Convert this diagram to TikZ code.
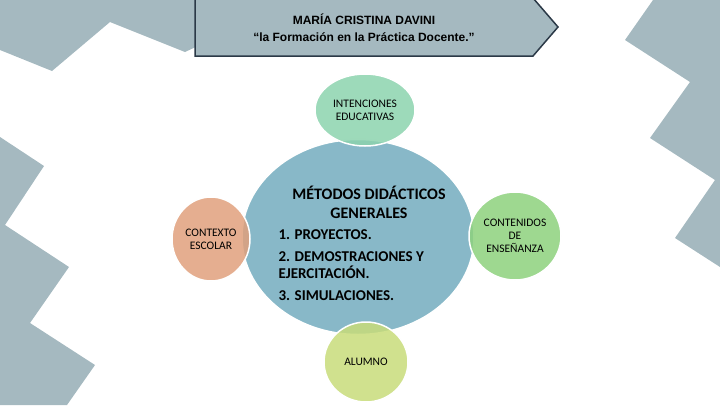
\documentclass[tikz,border=0pt]{standalone}
\usepackage{fontspec}
\usetikzlibrary{shapes.geometric}
\setmainfont{Carlito}
\newfontfamily\arialf{Liberation Sans}
\begin{document}
\begin{tikzpicture}[x=1pt,y=-1pt,
  sat/.style={ellipse, fill opacity=0.85, text opacity=1, draw=white, line width=1.5pt, font=\fontsize{11.5}{13}\selectfont, align=center, inner sep=0pt}]
\definecolor{bgray}{HTML}{A5B9C0}
\definecolor{bord}{HTML}{2B3947}
\definecolor{cblue}{HTML}{88B8C8}
\definecolor{cmint}{HTML}{8CD3AE}
\definecolor{corange}{HTML}{E0A07C}
\definecolor{cgreen}{HTML}{8DD17D}
\definecolor{cyel}{HTML}{C8DC7A}
\useasboundingbox (0,0) rectangle (720,405);
\fill[bgray] (0,0) -- (200,0) -- (200,45) -- (185,52) -- (110,22) -- (52,71) -- (0,50) -- cycle;
\fill[bgray] (0,137) -- (44,166) -- (5,225) -- (69,267) -- (30,323) -- (95,365) -- (67,405) -- (0,405) -- cycle;
\fill[bgray] (653,0) -- (720,0) -- (720,267) -- (675,238) -- (715,180) -- (650,138) -- (690,82) -- (625,40) -- cycle;
\draw[bord, fill=bgray, line width=1.5pt] (195,-2) -- (533,-2) -- (558,27) -- (533,56) -- (195,56) -- cycle;
\node (title) at (364,28) [align=center, font=\arialf\bfseries\fontsize{12}{17}\selectfont] {MARÍA CRISTINA DAVINI\\“la Formación en la Práctica Docente.”};
\node (main) at (358,237) [ellipse, minimum width=232pt, minimum height=195pt, fill=cblue, draw=white, line width=1.5pt] {};
\node (mt) at (369,202) [align=center, font=\bfseries\fontsize{16}{19}\selectfont] {MÉTODOS DIDÁCTICOS\\GENERALES};
\node (items) at (275,265) [anchor=west, align=left, font=\bfseries\fontsize{15}{17}\selectfont] {1. PROYECTOS.\\[5pt]2. DEMOSTRACIONES Y\\EJERCITACIÓN.\\[5pt]3. SIMULACIONES.};
\node (top) at (365,110) [sat, fill=cmint, minimum width=100pt, minimum height=72pt] {INTENCIONES\\EDUCATIVAS};
\node (left) at (211,239) [sat, fill=corange, minimum width=78pt, minimum height=84pt] {CONTEXTO\\ESCOLAR};
\node (right) at (515,236) [sat, fill=cgreen, minimum width=92pt, minimum height=88pt] {CONTENIDOS\\DE\\ENSEÑANZA};
\node (bot) at (366,362) [sat, fill=cyel, minimum width=84pt, minimum height=80pt] {ALUMNO};
\end{tikzpicture}
\end{document}
